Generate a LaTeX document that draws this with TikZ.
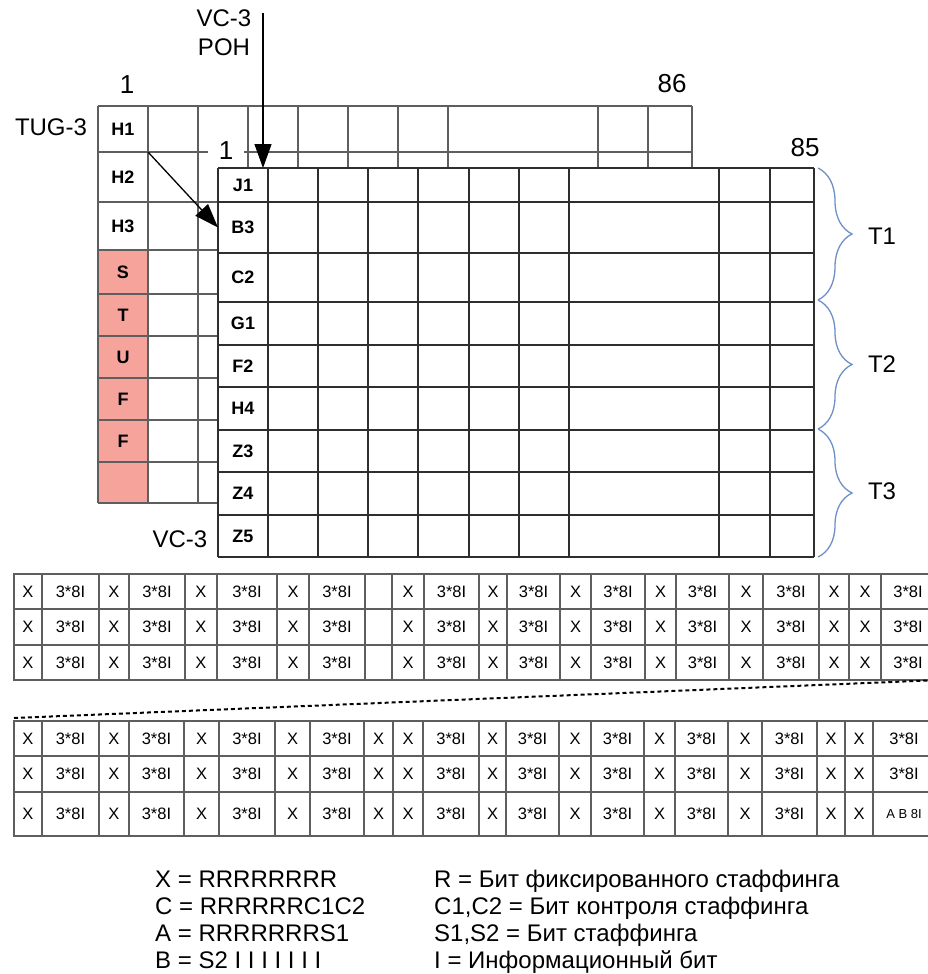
\documentclass[tikz,border=0pt]{standalone}
\usepackage{fontspec}
\setmainfont{Liberation Sans}
\usetikzlibrary{arrows.meta,decorations.pathreplacing}
\definecolor{gridgray}{HTML}{5E5E5E}
\definecolor{frameink}{HTML}{2E2E2E}
\definecolor{pinkfill}{HTML}{F6A39C}
\definecolor{braceblue}{HTML}{6E8FC8}
\tikzset{
  tugline/.style={draw=gridgray,line width=1.8pt},
  vcline/.style={draw=frameink,line width=1.3pt},
  hdrlabel/.style={font=\fontsize{18}{18}\selectfont\bfseries,
                   inner sep=0pt,outer sep=0pt,minimum width=50pt},
  bitcell/.style={draw=gridgray,line width=1.6pt,inner sep=0pt,outer sep=0pt,
                  font=\fontsize{16.5}{16.5}\selectfont},
  numlabel/.style={font=\fontsize{26}{26}\selectfont,inner sep=1pt},
  namelabel/.style={font=\fontsize{24}{29}\selectfont,inner sep=0pt},
  ptrarr/.style={-{Triangle[length=24pt,width=17pt]},line width=1.3pt},
  tbrace/.style={decorate,decoration={brace,amplitude=34pt},
                 draw=braceblue,line width=1.3pt},
  foldline/.style={dash pattern=on 4pt off 3pt,line width=2pt},
  legendtxt/.style={font=\fontsize{24}{27}\selectfont,inner sep=0pt,anchor=base west}
}

\begin{document}
\begin{tikzpicture}[x=1pt,y=-1pt]
  \useasboundingbox (0,0) rectangle (928,974);
  \clip (0,0) rectangle (928,974);

  % TUG-3 frame
  \node[hdrlabel,minimum height=46pt] (h1) at (123,129) {H1};
  \node[hdrlabel,minimum height=50pt] (h2) at (123,177) {H2};
  \node[hdrlabel,minimum height=48pt] (h3) at (123,226) {H3};
  \foreach \ya/\yb/\txt [count=\i] in {250/294/S,294/336/T,336/378/U,378/420/F,420/462/F,462/503/{}}
    \node[hdrlabel,fill=pinkfill,minimum height={(\yb-\ya)*1pt}] (stuff\i) at (123,{(\ya+\yb)/2}) {\txt};
  \foreach \x in {98,148,198,248,298,348,398,448,598,648,692}
    \draw[tugline] (\x,106) -- (\x,503);
  \foreach \y in {106,152,202,250,294,336,378,420,462,503}
    \draw[tugline] (98,\y) -- (692,\y);
  \node[numlabel,fill=white,inner xsep=11pt,inner ysep=0pt] (vcfirst) at (226,151) {1};

  % VC-3 frame
  \fill[white] (218,168) rectangle (814,557);
  \foreach \x in {218,268,318,368,418,469,519,569,719,770,814}
    \draw[vcline] (\x,168) -- (\x,557);
  \foreach \y in {168,202,253,302,345,387,430,472,515,557}
    \draw[vcline] (218,\y) -- (814,\y);
  \foreach \ya/\yb/\txt/\nm in {168/202/J1/j1,202/253/B3/b3,253/302/C2/c2,302/345/G1/g1,
      345/387/F2/f2,387/430/H4/h4,430/472/Z3/z3,472/515/Z4/z4,515/557/Z5/z5}
    \node[hdrlabel,minimum height={(\yb-\ya)*1pt}] (\nm) at (243,{(\ya+\yb)/2}) {\txt};

  % labels
  \node[numlabel] (tugfirst) at (127,85) {1};
  \node[numlabel] (tuglast) at (672,84) {86};
  \node[numlabel] (vclast) at (805,148) {85};
  \node[namelabel] (tugname) at (51,127) {TUG-3};
  \node[namelabel,align=center] (pohname) at (224,33) {VC-3\\POH};
  \node[namelabel] (vcname) at (180,539) {VC-3};

  % pointers
  \coordinate (pohin) at (263,13);
  \draw[ptrarr] (pohin) -- (pohin |- j1.north);
  \draw[ptrarr] (h2.north east) -- (b3.west);

  % braces
  \draw[tbrace] (818,168) -- (818,300);
  \draw[tbrace] (818,300) -- (818,429);
  \draw[tbrace] (818,429) -- (818,557);
  \node[namelabel] (tone) at (882,236) {T1};
  \node[namelabel] (ttwo) at (882,364) {T2};
  \node[namelabel] (tthree) at (882,491) {T3};

  % first rows
  \foreach \ya/\yb [count=\r] in {574/609,609/645,645/680}
    \foreach \xa/\xb/\txt [count=\c] in {14/42/X,42/99/3*8I,99/129/X,129/185/3*8I,185/217/X,
        217/277/3*8I,277/309/X,309/365/3*8I,365/392/{},392/424/X,424/479/3*8I,479/507/X,
        507/560/3*8I,560/591/X,591/645/3*8I,645/676/X,676/729/3*8I,729/763/X,763/819/3*8I,
        819/849/X,849/881/X,881/935/3*8I}
      \node[bitcell,minimum width={(\xb-\xa)*1pt},minimum height={(\yb-\ya)*1pt}]
        (ta\r-\c) at ({(\xa+\xb)/2},{(\ya+\yb)/2}) {\txt};

  % last rows
  \foreach \ya/\yb [count=\r] in {721/756,756/792,792/836}
    \foreach \xa/\xb/\txt [count=\c] in {14/42/X,42/99/3*8I,99/129/X,129/184/3*8I,184/219/X,
        219/275/3*8I,275/310/X,310/364/3*8I,364/393/X,393/423/X,423/479/3*8I,479/506/X,
        506/559/3*8I,559/591/X,591/644/3*8I,644/675/X,675/728/3*8I,728/762/X,762/817/3*8I,
        817/845/X,845/873/X}
      \node[bitcell,minimum width={(\xb-\xa)*1pt},minimum height={(\yb-\ya)*1pt}]
        (tb\r-\c) at ({(\xa+\xb)/2},{(\ya+\yb)/2}) {\txt};
  \node[bitcell,minimum width=62pt,minimum height=35pt] (tb1-22) at (904,738.5) {3*8I};
  \node[bitcell,minimum width=62pt,minimum height=36pt] (tb2-22) at (904,774) {3*8I};
  \node[bitcell,minimum width=62pt,minimum height=44pt,font=\fontsize{13}{13}\selectfont]
    (tb3-22) at (904,814) {A B 8I};

  % fold
  \coordinate (foldl) at (14,718);
  \coordinate (foldr) at (940,680);
  \draw[foldline] (foldl) -- (foldr);

  % legend
  \node[legendtxt] (lgx) at (155,887) {X = RRRRRRRR};
  \node[legendtxt] (lgc) at (155,914) {C = RRRRRRC1C2};
  \node[legendtxt] (lga) at (155,941) {A = RRRRRRRS1};
  \node[legendtxt] (lgb) at (155,968) {B = S2 I I I I I I I};
  \node[legendtxt] (lgr) at (434,887) {R = Бит фиксированного стаффинга};
  \node[legendtxt] (lgcc) at (434,914) {C1,C2 = Бит контроля стаффинга};
  \node[legendtxt] (lgs) at (434,941) {S1,S2 = Бит стаффинга};
  \node[legendtxt] (lgi) at (434,968) {I = Информационный бит};
\end{tikzpicture}
\end{document}
